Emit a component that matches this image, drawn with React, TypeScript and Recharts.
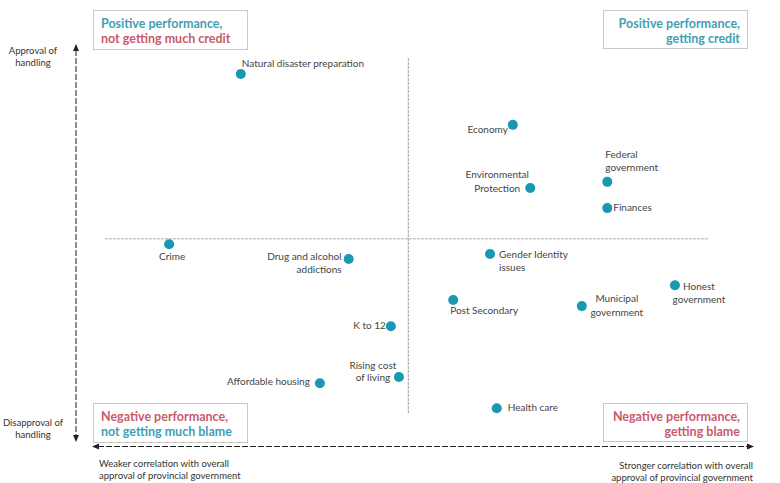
import React from "react";
import {
  ScatterChart,
  Scatter,
  XAxis,
  YAxis,
  ReferenceLine,
} from "recharts";

// Issue names
const issues = [
  "Natural disaster preparation",
  "Economy",
  "Environmental Protection",
  "Federal government",
  "Finances",
  "Crime",
  "Drug and alcohol addictions",
  "Gender Identity issues",
  "Honest government",
  "Post Secondary",
  "Municipal government",
  "K to 12",
  "Rising cost of living",
  "Affordable housing",
  "Health care",
];

// Correlation with overall approval of provincial government (0-100 scale)
const correlation = [24.0, 64.6, 67.2, 78.7, 78.7, 13.3, 40.1, 61.2, 88.8, 55.7, 74.9, 46.4, 47.6, 35.8, 62.2];

// Approval of handling (0-100 scale)
const approval = [91.7, 79.3, 63.9, 65.4, 59.0, 50.2, 46.6, 47.8, 40.2, 36.6, 35.1, 30.2, 17.8, 16.3, 10.2];

// Quadrant divider values
const correlationMidpoint = 49.0;
const approvalMidpoint = 51.5;

const data = issues.map((name, i) => ({ name, x: correlation[i], y: approval[i] }));

// Label placement (style only)
type Place = { lines: string[]; dx: number; dy: number; anchor: "start" | "middle" | "end"; gap?: number };
const placements: Record<string, Place> = {
  "Natural disaster preparation": { lines: ["Natural disaster preparation"], dx: 1, dy: -11, anchor: "start" },
  Economy: { lines: ["Economy"], dx: -5, dy: 4, anchor: "end" },
  "Environmental Protection": { lines: ["Environmental", "Protection"], dx: -33, dy: -14, anchor: "middle", gap: 14 },
  "Federal government": { lines: ["Federal", "government"], dx: -2, dy: -28, anchor: "start" },
  Finances: { lines: ["Finances"], dx: 6, dy: -1, anchor: "start" },
  Crime: { lines: ["Crime"], dx: 3, dy: 12, anchor: "middle" },
  "Drug and alcohol addictions": { lines: ["Drug and alcohol", "addictions"], dx: -7, dy: -3, anchor: "end" },
  "Gender Identity issues": { lines: ["Gender Identity", "issues"], dx: 9, dy: 0, anchor: "start" },
  "Honest government": { lines: ["Honest", "government"], dx: 24, dy: 1, anchor: "middle" },
  "Post Secondary": { lines: ["Post Secondary"], dx: -3, dy: 10, anchor: "start" },
  "Municipal government": { lines: ["Municipal", "government"], dx: 35, dy: -8, anchor: "middle", gap: 14 },
  "K to 12": { lines: ["K to 12"], dx: -5, dy: -1, anchor: "end" },
  "Rising cost of living": { lines: ["Rising cost", "of living"], dx: -26, dy: -12, anchor: "middle", gap: 12 },
  "Affordable housing": { lines: ["Affordable housing"], dx: -10, dy: -2, anchor: "end" },
  "Health care": { lines: ["Health care"], dx: 11, dy: -1, anchor: "start" },
};

const DOT = "#1a97b3";
const TEAL = "#3f9fb4";
const RED = "#c95a6b";
const FONT = "Lato, 'Open Sans', sans-serif";

const DotWithLabel = (props: any) => {
  const { cx, cy, payload } = props;
  const p = placements[payload.name];
  return (
    <g>
      <circle cx={cx} cy={cy} r={5} fill={DOT} />
      {p &&
        p.lines.map((l, i) => (
          <text
            key={i}
            x={cx + p.dx}
            y={cy + p.dy + i * (p.gap ?? 13)}
            textAnchor={p.anchor}
            dominantBaseline="central"
            fontSize={10}
            fill="#444"
            fontFamily={FONT}
          >
            {l}
          </text>
        ))}
    </g>
  );
};

const Box = ({ x, y, w, h, lines, align }: { x: number; y: number; w: number; h: number; lines: { t: string; c: string }[]; align: "start" | "end" }) => (
  <g>
    <rect x={x + 0.5} y={y + 0.5} width={w} height={h} fill="#fff" stroke="#c9c9c9" />
    {lines.map((l, i) => (
      <text
        key={i}
        x={align === "start" ? x + 8 : x + w - 7}
        y={y + 13 + i * 15}
        textAnchor={align}
        dominantBaseline="central"
        fontSize={12.5}
        fontWeight={700}
        fill={l.c}
        fontFamily={FONT}
      >
        {l.t}
      </text>
    ))}
  </g>
);

export default function App() {
  return (
    <div style={{ position: "absolute", left: 0, top: 0, width: 780, height: 483, background: "#fff" }}>
      <ScatterChart width={780} height={483} margin={{ top: 40, right: 30, bottom: 33, left: 80 }}>
        <XAxis type="number" dataKey="x" domain={[0, 100]} hide />
        <YAxis type="number" dataKey="y" domain={[0, 100]} hide />
        <ReferenceLine
          segment={[{ x: correlationMidpoint, y: 9 }, { x: correlationMidpoint, y: 95.6 }]}
          stroke="#9a9a9a"
          strokeDasharray="3 1"
          ifOverflow="visible"
        />
        <ReferenceLine
          segment={[{ x: 3.7, y: approvalMidpoint }, { x: 93.7, y: approvalMidpoint }]}
          stroke="#a8a8a8"
          strokeDasharray="3 1"
          ifOverflow="visible"
        />
        <Scatter data={data} shape={<DotWithLabel />} isAnimationActive={false} />
      </ScatterChart>
      <svg width={780} height={483} style={{ position: "absolute", left: 0, top: 0, pointerEvents: "none" }}>
        {/* vertical arrow */}
        <line x1={76} y1={50} x2={76} y2={436} stroke="#222" strokeDasharray="6 2" />
        <polygon points="76,44 73,51 79,51" fill="#222" />
        <polygon points="76,442 73,435 79,435" fill="#222" />
        {/* horizontal arrow */}
        <line x1={98} y1={446.5} x2={748} y2={446.5} stroke="#222" strokeDasharray="6 2" />
        <polygon points="92,446.5 99,443.5 99,449.5" fill="#222" />
        <polygon points="754,446.5 747,443.5 747,449.5" fill="#222" />
        {/* axis captions */}
        <g fontFamily={FONT} fontSize={9.5} fill="#333" dominantBaseline="central">
          <text x={33} y={50} textAnchor="middle">Approval of</text>
          <text x={33} y={62} textAnchor="middle">handling</text>
          <text x={33} y={422} textAnchor="middle">Disapproval of</text>
          <text x={33} y={434} textAnchor="middle">handling</text>
          <text x={99} y={463} textAnchor="start">Weaker correlation with overall</text>
          <text x={99} y={475} textAnchor="start">approval of provincial government</text>
          <text x={753} y={465} textAnchor="end">Stronger correlation with overall</text>
          <text x={753} y={477} textAnchor="end">approval of provincial government</text>
        </g>
        <Box x={93} y={10} w={154} h={39} align="start" lines={[{ t: "Positive performance,", c: TEAL }, { t: "not getting much credit", c: RED }]} />
        <Box x={603} y={10} w={144} h={38} align="end" lines={[{ t: "Positive performance,", c: TEAL }, { t: "getting credit", c: TEAL }]} />
        <Box x={93} y={403} w={154} h={39} align="start" lines={[{ t: "Negative performance,", c: RED }, { t: "not getting much blame", c: TEAL }]} />
        <Box x={603} y={403} w={144} h={38} align="end" lines={[{ t: "Negative performance,", c: RED }, { t: "getting blame", c: RED }]} />
      </svg>
    </div>
  );
}
